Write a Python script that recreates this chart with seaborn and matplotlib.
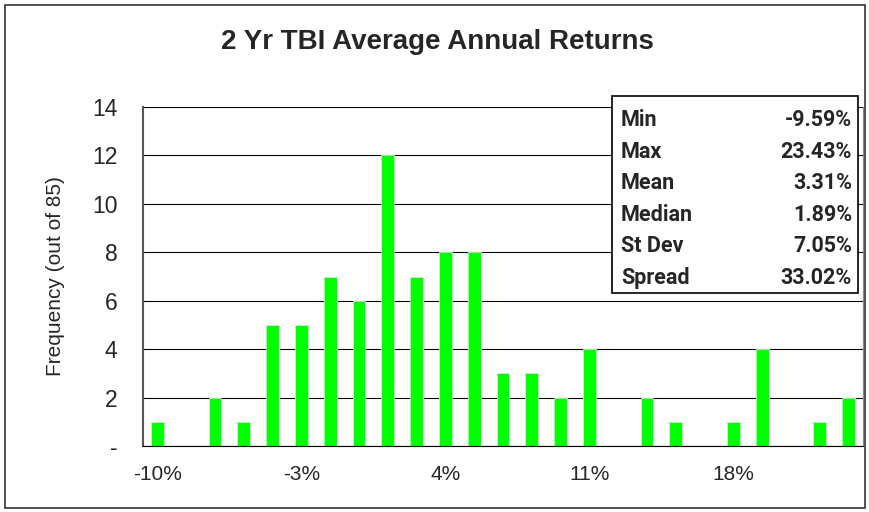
import matplotlib
matplotlib.use("Agg")
import matplotlib.pyplot as plt
import seaborn as sns
import pandas as pd
import numpy as np
from matplotlib.patches import Rectangle

bins = [-10.0, -8.6, -7.2, -5.8, -4.4, -3.0, -1.6, -0.2, 1.2, 2.6, 4.0, 5.4, 6.8,
        8.2, 9.6, 11.0, 12.4, 13.8, 15.2, 16.6, 18.0, 19.4, 20.8, 22.2, 23.6]
counts = [1, 0, 2, 1, 5, 5, 7, 6, 12, 7, 8, 8, 3, 3, 2, 4, 0, 2, 1, 0, 1, 4, 0, 1, 2]
stat_names = ["Min", "Max", "Mean", "Median", "St Dev", "Spread"]
stat_values = ["-9.59%", "23.43%", "3.31%", "1.89%", "7.05%", "33.02%"]
yticks = [0, 2, 4, 6, 8, 10, 12, 14]
ytick_labels = ["-", "2", "4", "6", "8", "10", "12", "14"]

sns.set_style("white")
plt.rcParams['font.family'] = ['Liberation Sans', 'DejaVu Sans']

df = pd.DataFrame({"bin": [f"{b:.1f}" for b in bins], "count": counts})

fig = plt.figure(figsize=(8.69, 5.12), dpi=100)
# outer frame
fig.patches.append(Rectangle((5/869, 4/512), 860/869, 503/512, transform=fig.transFigure,
                             fill=False, edgecolor="#333333", linewidth=1.2))
ax = fig.add_axes([143/869, 66/512, 720/869, 339/512])
sns.barplot(data=df, x="bin", y="count", order=df["bin"], color="#00FF00",
            width=0.45, saturation=1, edgecolor="#C8F5C8", linewidth=0.6, ax=ax)

ax.set_xlim(-0.5, len(bins) - 0.5)
ax.set_ylim(0, 14)
ax.set_yticks(yticks)
ax.set_yticklabels(ytick_labels, fontsize=16.5)
major = list(range(0, len(bins), 5))
ax.set_xticks(major)
ax.set_xticklabels([f"{bins[i]:.0f}%" for i in major], fontsize=15)
ax.set_xticks(np.arange(-0.5, len(bins), 1.0), minor=True)
ax.tick_params(axis="x", which="major", length=0, pad=14)
ax.tick_params(axis="x", which="minor", length=5, width=1, color="black", direction="out")
ax.tick_params(axis="y", which="major", length=5.5, width=1, color="black", direction="out", pad=13)
ax.yaxis.grid(True, color="black", linewidth=0.8)
ax.set_axisbelow(True)
ax.set_xlabel("")
ax.set_ylabel("Frequency (out of 85)", fontsize=15)
ax.yaxis.set_label_coords(-0.109, 0.5)
ax.spines["top"].set_visible(False)
ax.spines["left"].set_color("#555555")
ax.spines["left"].set_linewidth(1.5)
ax.spines["bottom"].set_color("black")
ax.spines["right"].set_color("#888888")

fig.text(437/869, 1 - 42/512, "2 Yr TBI Average Annual Returns", ha="center", va="center",
         fontsize=20, fontweight="bold")

# stats box
bx0, bx1, by0, by1 = 612, 858, 96, 293
fig.patches.append(Rectangle((bx0/869, 1 - by1/512), (bx1 - bx0)/869, (by1 - by0)/512,
                             transform=fig.transFigure, facecolor="white",
                             edgecolor="black", linewidth=1.2, zorder=5))
for i, (n, v) in enumerate(zip(stat_names, stat_values)):
    yc = 120 + 31.6 * i
    fig.text((bx0 + 9)/869, 1 - yc/512, n, ha="left", va="center", fontsize=15.5,
             fontweight="bold", family=["Roboto", "DejaVu Sans"], zorder=6)
    fig.text((bx1 - 6)/869, 1 - yc/512, v, ha="right", va="center", fontsize=15.5,
             fontweight="bold", family=["Roboto", "DejaVu Sans"], zorder=6)

fig.savefig("out.png", dpi=100)
